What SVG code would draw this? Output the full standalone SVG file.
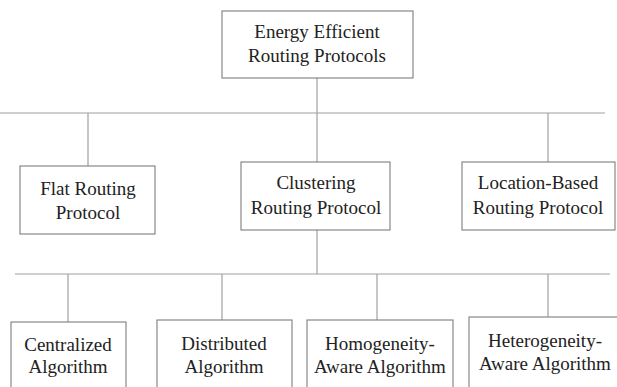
<svg xmlns="http://www.w3.org/2000/svg" width="617" height="387" viewBox="0 0 617 387">
<style>
.box{fill:#fff;stroke:#888;stroke-width:1.2}
.ln{stroke:#a0a0a0;stroke-width:1.2;fill:none}
.t{font-family:"Liberation Serif","DejaVu Serif",serif;font-size:19px;fill:#222;text-anchor:middle}
</style>
<rect width="617" height="387" fill="#fff"/>
<g id="connectors">
<line class="ln" x1="317" y1="78" x2="317" y2="113"/>
<line class="ln" x1="0" y1="113" x2="605" y2="113"/>
<line class="ln" x1="88" y1="113" x2="88" y2="166"/>
<line class="ln" x1="317" y1="113" x2="317" y2="162"/>
<line class="ln" x1="548" y1="113" x2="548" y2="162"/>
<line class="ln" x1="317" y1="230" x2="317" y2="274"/>
<line class="ln" x1="15" y1="274" x2="610" y2="274"/>
<line class="ln" x1="68" y1="274" x2="68" y2="322"/>
<line class="ln" x1="222" y1="274" x2="222" y2="320"/>
<line class="ln" x1="377" y1="274" x2="377" y2="320"/>
<line class="ln" x1="548" y1="274" x2="548" y2="317"/>
</g>
<g class="t" font-family="Liberation Serif, DejaVu Serif, serif">
<g id="root">
<rect class="box" x="222" y="11" width="191" height="67"/>
<text x="317" y="38">Energy Efficient</text>
<text x="317" y="62">Routing Protocols</text>
</g>
<g id="flat">
<rect class="box" x="20" y="166" width="135" height="68"/>
<text x="88" y="195">Flat Routing</text>
<text x="88" y="219">Protocol</text>
</g>
<g id="clustering">
<rect class="box" x="241" y="162" width="149" height="68"/>
<text x="316" y="189">Clustering</text>
<text x="316" y="214">Routing Protocol</text>
</g>
<g id="location">
<rect class="box" x="462" y="162" width="153" height="68"/>
<text x="538" y="189">Location-Based</text>
<text x="538" y="214">Routing Protocol</text>
</g>
<g id="centralized">
<rect class="box" x="11" y="322" width="115" height="80"/>
<text x="68" y="351">Centralized</text>
<text x="68" y="373">Algorithm</text>
</g>
<g id="distributed">
<rect class="box" x="157" y="320" width="135" height="80"/>
<text x="224" y="350">Distributed</text>
<text x="224" y="373">Algorithm</text>
</g>
<g id="homogeneity">
<rect class="box" x="307" y="320" width="146" height="80"/>
<text x="380" y="350">Homogeneity-</text>
<text x="380" y="373">Aware Algorithm</text>
</g>
<g id="heterogeneity">
<rect class="box" x="469" y="317" width="160" height="80"/>
<text x="545" y="347">Heterogeneity-</text>
<text x="545" y="370">Aware Algorithm</text>
</g>
</g>
</svg>
